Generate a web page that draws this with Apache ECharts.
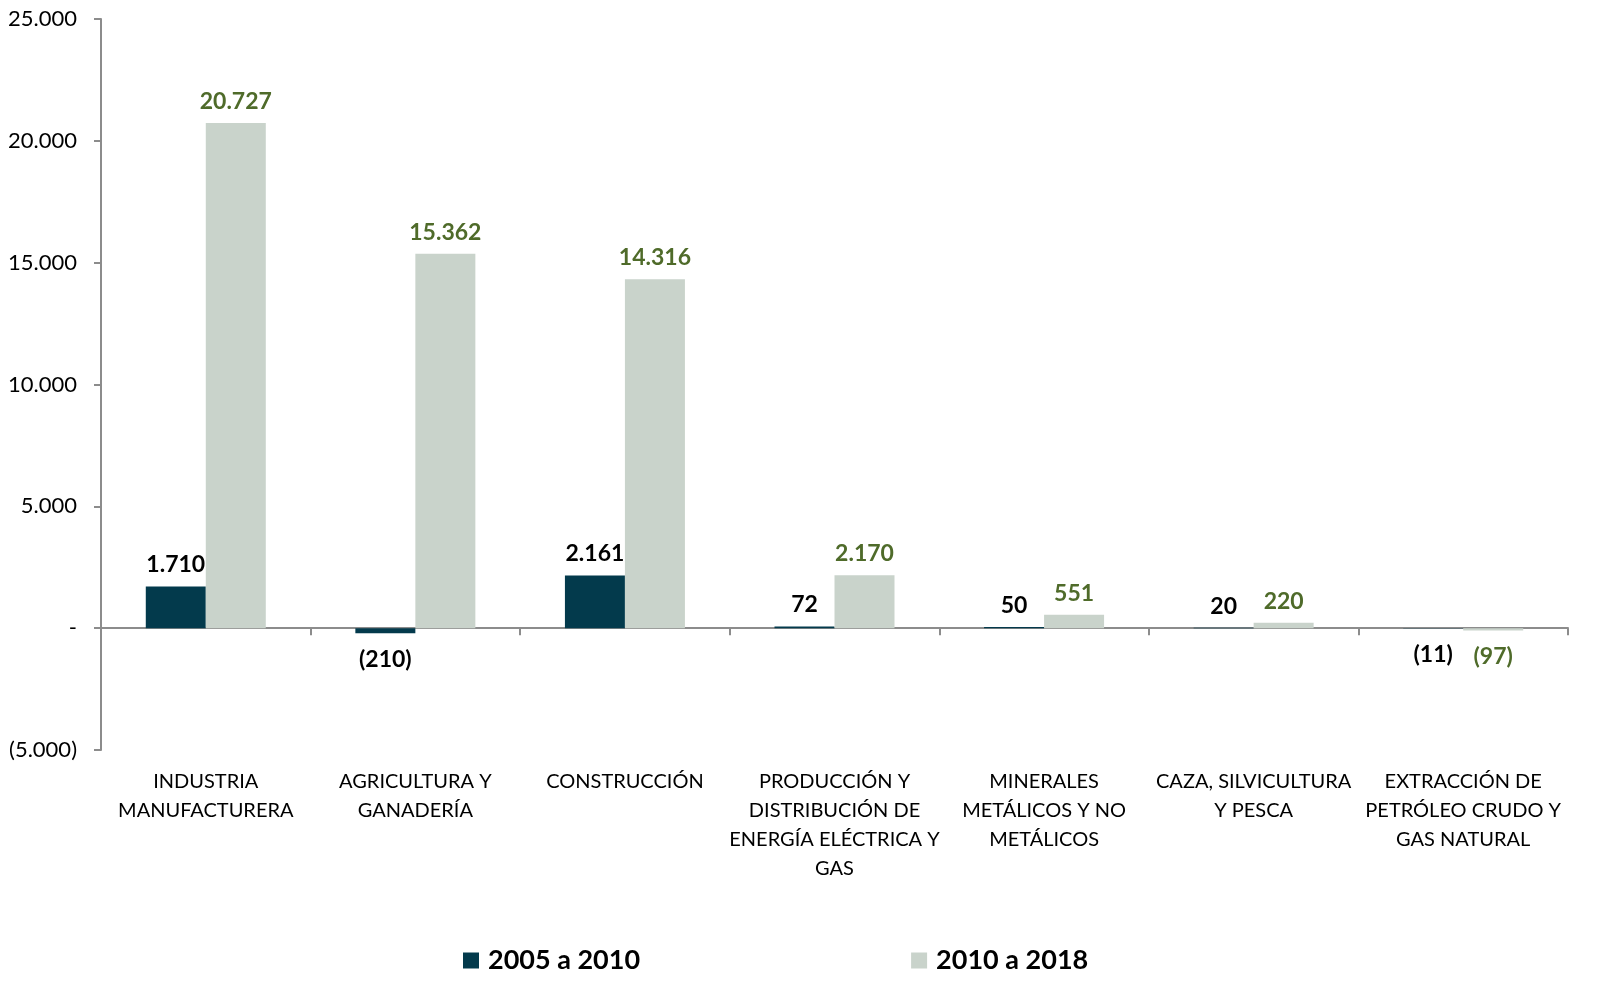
<!DOCTYPE html>
<html>
<head>
<meta charset="utf-8">
<script src="https://cdn.jsdelivr.net/npm/echarts@6/dist/echarts.min.js"></script>
<style>
html,body{margin:0;padding:0;background:#fff;}
#chart{width:1603px;height:994px;}
</style>
</head>
<body>
<div id="chart"></div>
<script>
const categories = [
  'INDUSTRIA\nMANUFACTURERA',
  'AGRICULTURA Y\nGANADERÍA',
  'CONSTRUCCIÓN',
  'PRODUCCIÓN Y\nDISTRIBUCIÓN DE\nENERGÍA ELÉCTRICA Y\nGAS',
  'MINERALES\nMETÁLICOS Y NO\nMETÁLICOS',
  'CAZA, SILVICULTURA\nY PESCA',
  'EXTRACCIÓN DE\nPETRÓLEO CRUDO Y\nGAS NATURAL'
];
const series2005_2010 = [1710, -210, 2161, 72, 50, 20, -11];
const series2010_2018 = [20727, 15362, 14316, 2170, 551, 220, -97];
const seriesNames = ['2005 a 2010', '2010 a 2018'];
const yTicks = { min: -5000, max: 25000, interval: 5000 };

const FONT = 'Lato, "Open Sans", sans-serif';
function fmt(v) {
  if (v === 0) return '-';
  const s = Math.abs(v).toString().replace(/\B(?=(\d{3})+(?!\d))/g, '.');
  return v < 0 ? '(' + s + ')' : s;
}
function withLabels(arr, color) {
  return arr.map(v => ({
    value: v,
    label: {
      show: true,
      position: v < 0 ? 'bottom' : 'top',
      distance: v < 0 ? 15 : 10,
      formatter: p => fmt(p.value),
      color: color,
      fontFamily: FONT,
      fontWeight: 'bold',
      fontSize: 23
    }
  }));
}

const chart = echarts.init(document.getElementById('chart'));
chart.setOption({
  animation: false,
  backgroundColor: '#ffffff',
  grid: { left: 101, right: 35, top: 19, bottom: 244 },
  legend: {
    top: 942,
    left: 458,
    itemWidth: 16,
    itemHeight: 16,
    itemGap: 271,
    icon: 'rect',
    data: seriesNames,
    textStyle: { fontFamily: FONT, fontSize: 27, fontWeight: 'bold', color: '#000', padding: [0, 0, 0, 4] }
  },
  xAxis: [
    {
      type: 'category',
      data: categories,
      axisLine: { onZero: true, lineStyle: { color: '#8c8c8c', width: 2 } },
      axisTick: { show: true, length: 7, lineStyle: { color: '#8c8c8c', width: 2 } },
      axisLabel: { show: false },
      splitLine: { show: false }
    },
    {
      type: 'category',
      data: categories,
      position: 'bottom',
      axisLine: { show: false, onZero: false },
      axisTick: { show: false },
      axisLabel: {
        show: true, interval: 0, margin: 17,
        fontFamily: FONT, fontSize: 20, lineHeight: 29, color: '#000'
      }
    }
  ],
  yAxis: {
    type: 'value',
    min: yTicks.min, max: yTicks.max, interval: yTicks.interval,
    axisLine: { show: true, lineStyle: { color: '#8c8c8c', width: 2 } },
    axisTick: { show: true, length: 7, lineStyle: { color: '#8c8c8c', width: 2 } },
    splitLine: { show: false },
    axisLabel: {
      margin: 24, fontFamily: FONT, fontSize: 22, color: '#000',
      formatter: v => fmt(v)
    }
  },
  series: [
    {
      name: seriesNames[0], type: 'bar', xAxisIndex: 0,
      data: withLabels(series2005_2010, '#000000'),
      itemStyle: { color: '#033A4C' },
      barWidth: 60, barGap: '0%'
    },
    {
      name: seriesNames[1], type: 'bar', xAxisIndex: 0,
      data: withLabels(series2010_2018, '#4F6B2A'),
      itemStyle: { color: '#C9D3CB' },
      barWidth: 60, barGap: '0%'
    }
  ]
});
</script>
</body>
</html>
